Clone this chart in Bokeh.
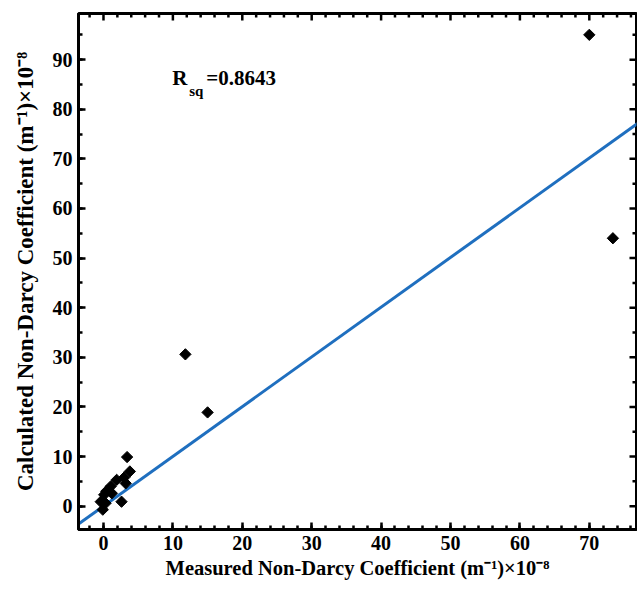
import numpy as np
from bokeh.plotting import figure
from bokeh.models import Range1d, SingleIntervalTicker, Label
from bokeh.embed import file_html
from bokeh.resources import INLINE

# Data
measured = [70.0, 73.4, 11.8, 15.0, 3.4, 3.8, 3.0, 1.9, 3.2, 1.05, 0.4, 0.1, 1.2, 2.6, -0.4, 0.3, -0.1]
calculated = [95.0, 54.0, 30.6, 18.9, 9.9, 7.0, 5.8, 5.3, 4.6, 4.0, 3.0, 2.3, 2.6, 0.9, 0.9, 0.6, -0.7]
fit_x = [-3.6, 77.0]
fit_y = [-3.6, 77.2]
r_sq_label = "=0.8643"
x_title = "Measured Non-Darcy Coefficient (m\u207b\u00b9)\u00d710\u207b\u2078"
y_title = "Calculated Non-Darcy Coefficient (m\u207b\u00b9)\u00d710\u207b\u2078"

X_MIN, X_MAX = -3.6, 76.8
Y_MIN, Y_MAX = -4.7, 99.3
X_MAJOR, X_MINOR_N = 10, 5
Y_MAJOR, Y_MINOR_N = 10, 2

W, H = 637, 593
LEFT, RIGHT, TOP, BOTTOM = 78, 1, 13, 64

FONT = "Liberation Serif"

p = figure(width=W, height=H, output_backend="svg", toolbar_location=None,
           x_range=Range1d(X_MIN, X_MAX), y_range=Range1d(Y_MIN, Y_MAX),
           min_border_left=LEFT, min_border_right=RIGHT, min_border_top=TOP,
           min_border_bottom=BOTTOM,
           background_fill_color="white", border_fill_color="white")
p.grid.visible = False
p.outline_line_color = "black"
p.outline_line_width = 3

p.xaxis.ticker = SingleIntervalTicker(interval=X_MAJOR, num_minor_ticks=X_MINOR_N)
p.yaxis.ticker = SingleIntervalTicker(interval=Y_MAJOR, num_minor_ticks=Y_MINOR_N)

for ax in (p.xaxis[0], p.yaxis[0]):
    ax.axis_line_width = 3
    ax.axis_line_color = "black"
    ax.major_tick_in = 7
    ax.major_tick_out = 0
    ax.minor_tick_in = 4
    ax.minor_tick_out = 0
    ax.major_tick_line_width = 2.5
    ax.minor_tick_line_width = 2.5
    ax.major_tick_line_color = "black"
    ax.minor_tick_line_color = "black"
    ax.major_label_text_font = FONT
    ax.major_label_text_font_style = "bold"
    ax.major_label_text_color = "black"
    ax.major_label_text_font_size = "20px"
    ax.major_label_standoff = 6
    ax.axis_label_text_font = FONT
    ax.axis_label_text_font_style = "bold"
    ax.axis_label_text_color = "black"

p.xaxis.axis_label = x_title
p.yaxis.axis_label = y_title
p.xaxis.axis_label_text_font_size = "20.5px"
p.yaxis.axis_label_text_font_size = "23px"
p.xaxis.axis_label_standoff = 4
p.yaxis.axis_label_standoff = 12

# pixels per data unit of the frame, used for mirrored tick lengths
px_x = (W - LEFT - RIGHT) / (X_MAX - X_MIN)
px_y = (H - TOP - BOTTOM) / (Y_MAX - Y_MIN)

# mirrored inward ticks on the top and right edges
x_major = np.arange(0, X_MAX, X_MAJOR)
x_minor = np.array([v for v in np.arange(-2, X_MAX, X_MAJOR / X_MINOR_N) if v % X_MAJOR != 0])
y_major = np.arange(0, Y_MAX, Y_MAJOR)
y_minor = np.array([v for v in np.arange(-5, Y_MAX, Y_MAJOR / Y_MINOR_N) if v % Y_MAJOR != 0])
p.segment(x_major, Y_MAX, x_major, Y_MAX - 7 / px_y, line_color="black", line_width=2.5)
p.segment(x_minor, Y_MAX, x_minor, Y_MAX - 4 / px_y, line_color="black", line_width=2.5)
p.segment(X_MAX, y_major, X_MAX - 7 / px_x, y_major, line_color="black", line_width=2.5)
p.segment(X_MAX, y_minor, X_MAX - 4 / px_x, y_minor, line_color="black", line_width=2.5)

p.line(fit_x, fit_y, line_color="#1f6fbf", line_width=3)
p.scatter(measured, calculated, marker="square", angle=np.pi / 4, size=8,
          fill_color="black", line_color="black")

p.add_layout(Label(x=9.9, y=86.2, text="R", text_font=FONT, text_font_style="bold",
                   text_font_size="21px", text_baseline="alphabetic", text_color="black"))
p.add_layout(Label(x=9.9, y=86.2, x_offset=17, y_offset=-13, text="sq", text_font=FONT,
                   text_font_style="bold", text_font_size="15px", text_baseline="alphabetic",
                   text_color="black"))
p.add_layout(Label(x=9.9, y=86.2, x_offset=34, text=r_sq_label, text_font=FONT,
                   text_font_style="bold", text_font_size="21px", text_baseline="alphabetic",
                   text_color="black"))

open("out.html", "w").write(file_html(p, INLINE))
